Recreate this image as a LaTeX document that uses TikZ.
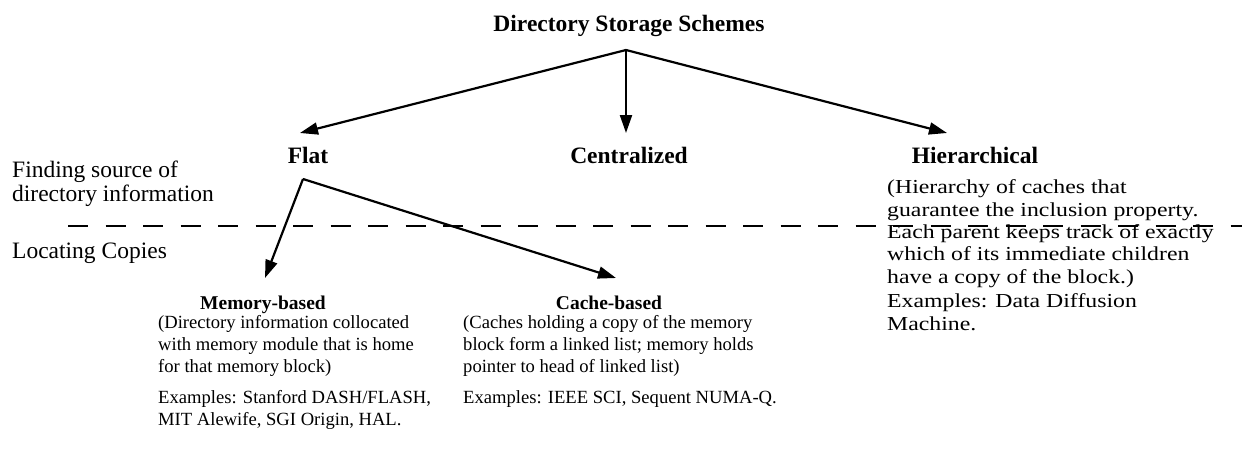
\documentclass[tikz,border=0pt]{standalone}
\usepackage{fontspec}
\setmainfont{Liberation Serif}
\newfontfamily\widefont[FakeStretch=1.2]{Liberation Serif}
\usetikzlibrary{arrows.meta}
\begin{document}
\begin{tikzpicture}[x=1pt,y=-1pt,
  arr/.style={line width=2.2pt,-{Triangle[length=18pt,width=12pt]}},
  head/.style={font=\fontsize{23.5}{26}\selectfont\bfseries,inner sep=0pt,anchor=base},
  subhead/.style={font=\fontsize{19.5}{22}\selectfont\bfseries,inner sep=0pt,anchor=base},
  lbl/.style={font=\fontsize{23.5}{23.5}\selectfont,inner sep=0pt,anchor=base west,align=left},
  body/.style={font=\fontsize{18.6}{22}\selectfont,inner sep=0pt,anchor=base west,align=left},
  hbody/.style={font=\widefont\fontsize{19.8}{22.3}\selectfont,inner sep=0pt,anchor=base west,align=left},
  sep/.style={line width=1.3pt,dash pattern=on 20pt off 17.5pt}]
\useasboundingbox (0,0) rectangle (1242,460);

% separator
\coordinate (dl) at (68,226);
\coordinate (dr) at (1242,226);
\draw[sep] (dl) -- (dr);

% headings
\node[head] (root) at (629,32) {Directory Storage Schemes};
\node[head] (flat) at (308,163) {Flat};
\node[head] (central) at (629,163) {Centralized};
\node[head] (hier) at (975,163) {Hierarchical};
\node[subhead] (mem) at (263,309) {Memory-based};
\node[subhead] (cache) at (609,309) {Cache-based};

% side labels (base = baseline of last line)
\node[lbl] (find) at (12,201) {Finding source of\\directory information};
\node[lbl] (locate) at (12,258) {Locating Copies};

% descriptions (base = baseline of last line)
\node[body] (memdesc) at (158,372) {(Directory information collocated\\with memory module that is home\\for that memory block)};
\node[body] (memex) at (158,425) {Examples: Stanford DASH/FLASH,\\MIT Alewife, SGI Origin, HAL.};
\node[body] (cachedesc) at (463,372) {(Caches holding a copy of the memory\\block form a linked list; memory holds\\pointer to head of linked list)};
\node[body] (cacheex) at (463,403) {Examples: IEEE SCI, Sequent NUMA-Q.};
\node[hbody] (hierdesc) at (887,283) {(Hierarchy of caches that\\guarantee the inclusion property.\\Each parent keeps track of exactly\\which of its immediate children\\have a copy of the block.)};
\node[hbody] (hierex) at (887,330) {Examples: Data Diffusion\\Machine.};

% connectors
\coordinate (rootpt) at (626,50);
\coordinate (flattip) at (300,133);
\coordinate (centraltip) at (626,133);
\coordinate (hiertip) at (947,133);
\draw[arr] (rootpt) -- (flattip);
\draw[arr] (rootpt) -- (centraltip);
\draw[arr] (rootpt) -- (hiertip);

\coordinate (flatpt) at (303,179);
\coordinate (memtip) at (265,278);
\coordinate (cachetip) at (616,278);
\draw[arr] (flatpt) -- (memtip);
\draw[arr] (flatpt) -- (cachetip);
\end{tikzpicture}
\end{document}
